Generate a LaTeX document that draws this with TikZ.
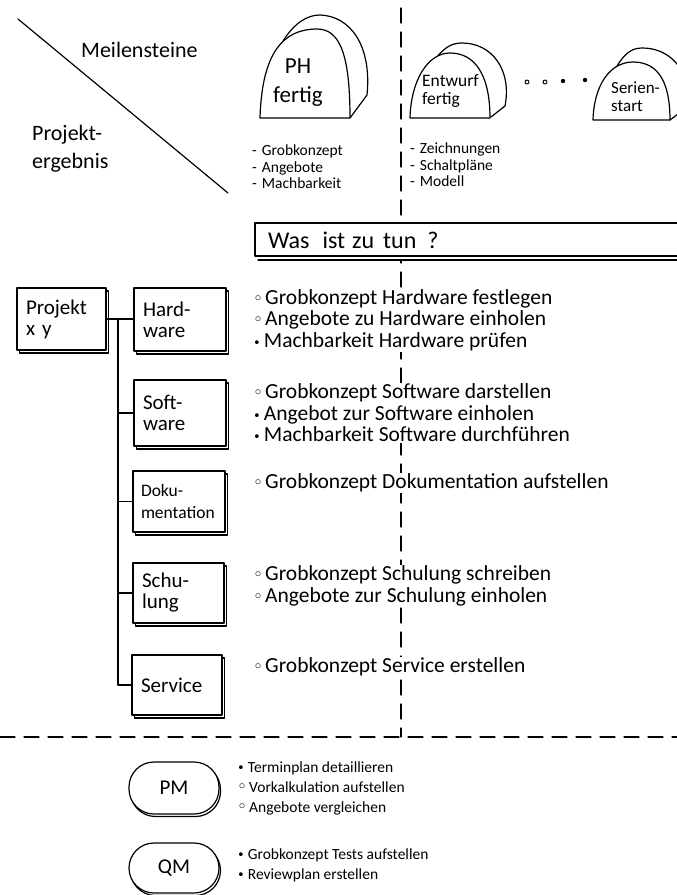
\documentclass[tikz,border=0pt]{standalone}
\usepackage{fontspec}
\setmainfont{Carlito}
\newfontfamily\symfont{DejaVu Sans}
\usetikzlibrary{shadows}
\newcommand{\obul}{{\symfont\fontsize{17}{17}\selectfont ◦}\hspace{2pt}}
\newcommand{\fbul}{{\symfont\fontsize{13}{13}\selectfont •}\hspace{3pt}}
\begin{document}
\begin{tikzpicture}[x=1pt,y=-1pt,
  ink/.style={line width=1.2pt, line cap=round, line join=round},
  shad/.style={copy shadow={shadow xshift=2.5pt, shadow yshift=-3pt, draw=black, fill=white, line width=1.2pt}},
  box/.style={ink, draw, fill=white, shad, inner xsep=9pt, inner ysep=0pt, align=left,
     font=\fontsize{21}{21}\selectfont},
  pill/.style={ink, draw, fill=white, rounded corners=25pt, minimum width=90, inner sep=0pt,
     copy shadow={shadow xshift=1.5pt, shadow yshift=-2.5pt, draw=black, fill=white, line width=1.2pt},
     font=\fontsize{21}{21}\selectfont},
  list/.style={anchor=west, align=left, font=\fontsize{21.5}{21.5}\selectfont, inner sep=1pt, fill=white},
  slist/.style={anchor=west, align=left, font=\fontsize{15.5}{16.5}\selectfont, inner sep=1pt},
  plist/.style={anchor=west, align=left, font=\fontsize{15.5}{20}\selectfont, inner sep=1pt},
  dline/.style={ink, dash pattern=on 15pt off 9pt},
  stone/.style={ink, draw, fill=white},
  lbl/.style={anchor=west, align=left, inner sep=0pt}
]
\useasboundingbox (0,0) rectangle (677,895);

% header: diagonal
\coordinate (d1) at (18,19);
\coordinate (d2) at (228,193);
\draw[ink] (d1) -- (d2);
\node[lbl, font=\fontsize{22}{22}\selectfont] (ms) at (81,50) {Meilensteine};
\node[lbl, font=\fontsize{22}{28}\selectfont] (pe) at (32,149) {Projekt-\\ergebnis};

% dashed separators
\coordinate (vtop) at (401,8);
\coordinate (vbot) at (401,737);
\coordinate (hl) at (0,737);
\coordinate (hr) at (677,737);
\draw[dline] (vtop) -- (vbot);
\draw[dline] (hl) -- (hr);

% milestone stones
\draw[stone] (283,41) .. controls (295,22) and (308,15) .. (320,15)
   .. controls (350,16) and (372,45) .. (367,95) -- (350,118);
\draw[stone] (260,118) .. controls (262,50) and (285,29) .. (317,29)
   .. controls (340,29) and (350,55) .. (350,118) -- cycle;
\node[anchor=center, font=\fontsize{23}{29}\selectfont, align=center, inner sep=0pt] (ph) at (298,83) {PH\\fertig};

\draw[stone] (436,58) .. controls (445,47) and (452,43) .. (462,43)
   .. controls (492,43) and (512,70) .. (505,106) -- (491,117);
\draw[stone] (410,118) .. controls (411,80) and (428,53) .. (450,53)
   .. controls (475,53) and (490,75) .. (490,118) -- cycle;
\node[lbl, font=\fontsize{17.5}{18}\selectfont] (ew) at (422,91) {Entwurf\\fertig};

\draw[stone] (617,66) .. controls (625,53) and (632,48) .. (642,48)
   .. controls (665,48) and (682,62) .. (690,90) -- (690,105) -- (670,120);
\draw[stone] (593,120) .. controls (594,85) and (610,62) .. (633,62)
   .. controls (660,62) and (670,85) .. (670,120) -- cycle;
\node[lbl, font=\fontsize{17}{18}\selectfont] (ss) at (611,97) {Serien-\\start};

% dots between milestones
\draw[ink, line width=1pt] (527,82) circle (2pt);
\draw[ink, line width=1pt] (545,82) circle (2pt);
\fill (563,81) circle (2.2pt);
\fill (585,80) circle (2.2pt);

% milestone results
\node[slist] (phres) at (251,167) {-\hspace{5pt}Grobkonzept\\-\hspace{5pt}Angebote\\-\hspace{5pt}Machbarkeit};
\node[slist] (ewres) at (409,165) {-\hspace{5pt}Zeichnungen\\-\hspace{5pt}Schaltpläne\\-\hspace{5pt}Modell};

% what to do box (open to the right, runs off the page)
\fill[white] (255,223) rectangle (700,261);
\draw[ink] (700,223) -- (255,223) -- (255,256) -- (700,256);
\draw[ink] (258,260) -- (700,260);
\node[lbl, font=\fontsize{24}{24}\selectfont] (todo) at (268,240) {Was\hspace{13pt}ist\hspace{7pt}zu\hspace{9pt}tun\hspace{11pt}?};

% project structure
\node[box, minimum width=89, minimum height=62, text width=71] (proj) at (61.5,319) {Projekt\\x y};
\node[box, minimum width=92, minimum height=63, text width=74] (hw) at (180,319.5) {Hard-\\ware};
\node[box, minimum width=92, minimum height=66, text width=74] (sw) at (180,413) {Soft-\\ware};
\node[box, minimum width=92, minimum height=61, text width=76, inner xsep=8pt,
      font=\fontsize{17.5}{22}\selectfont] (doku) at (179,501.5) {Doku-\\mentation};
\node[box, minimum width=91, minimum height=60, text width=73] (schul) at (178.5,593) {Schu-\\lung};
\node[box, minimum width=90, minimum height=60, text width=72, inner xsep=9pt] (serv) at (177,685) {Service};

\coordinate (jt) at (118,319);
\draw[ink] (proj.east) -- (proj.east -| hw.west);
\draw[ink] (jt) |- (serv.west);
\draw[ink] (jt |- sw.west) -- (sw.west);
\draw[ink] (jt |- doku.west) -- (doku.west);
\draw[ink] (jt |- schul.west) -- (schul.west);

% task lists
\node[list] (hwtxt) at (252,320) {\obul Grobkonzept Hardware festlegen\\\obul Angebote zu Hardware einholen\\\fbul Machbarkeit Hardware prüfen};
\node[list] (swtxt) at (252,413) {\obul Grobkonzept Software darstellen\\\fbul Angebot zur Software einholen\\\fbul Machbarkeit Software durchführen};
\node[list] (dktxt) at (252,483) {\obul Grobkonzept Dokumentation aufstellen};
\node[list] (sctxt) at (252,586) {\obul Grobkonzept Schulung schreiben\\\obul Angebote zur Schulung einholen};
\node[list] (svtxt) at (252,667) {\obul Grobkonzept Service erstellen};

% management
\node[pill, minimum height=52] (pm) at (174,788) {PM};
\node[pill, minimum height=50] (qm) at (174,868) {QM};
\node[plist] (pmtxt) at (236,788) {\fbul Terminplan detaillieren\\\obul Vorkalkulation aufstellen\\\obul Angebote vergleichen};
\node[plist] (qmtxt) at (236,865) {\fbul Grobkonzept Tests aufstellen\\\fbul Reviewplan erstellen};
\end{tikzpicture}
\end{document}
